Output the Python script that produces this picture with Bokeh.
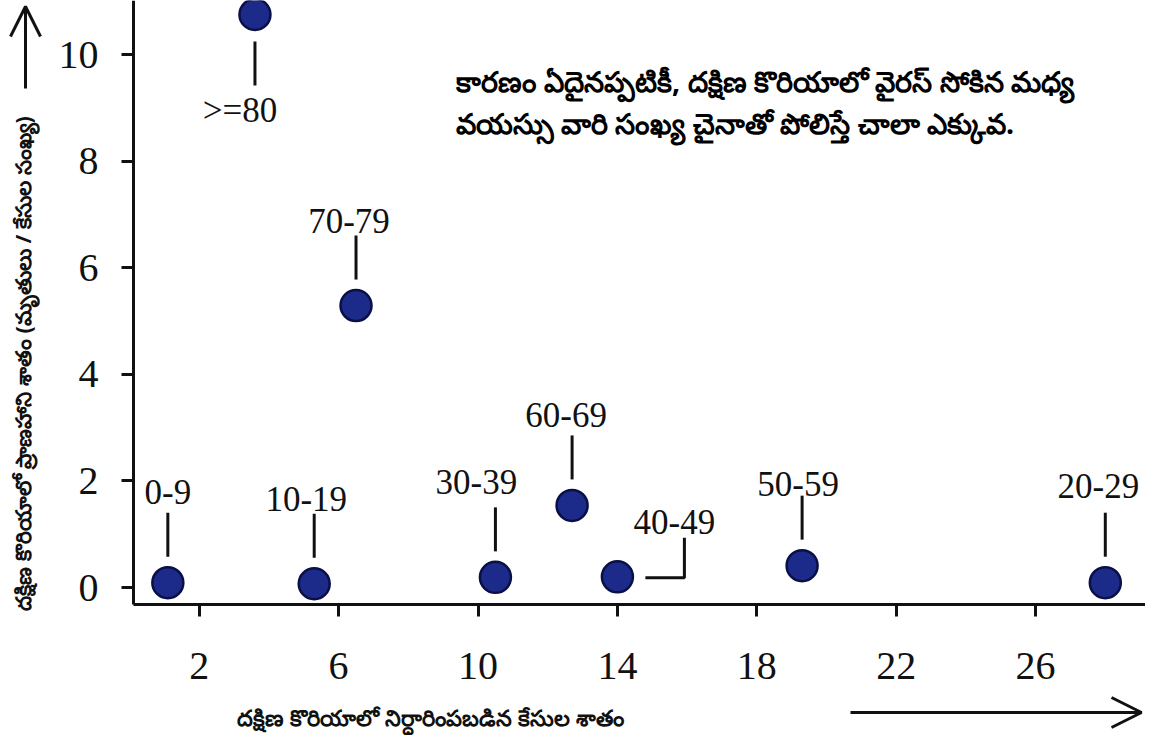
import math
from bokeh.plotting import figure
from bokeh.models import FixedTicker, Label, Arrow, OpenHead, ColumnDataSource
from bokeh.core.properties import value
from bokeh.embed import file_html
from bokeh.resources import INLINE

# ---------------- data ----------------
age_groups = ["0-9", "10-19", "20-29", "30-39", "40-49", "50-59", "60-69", "70-79", ">=80"]
case_share = [1.1, 5.3, 28.0, 10.5, 14.0, 19.3, 12.7, 6.5, 3.6]          # % of confirmed cases
fatality_rate = [0.09, 0.07, 0.09, 0.19, 0.2, 0.41, 1.54, 5.29, 10.75]   # % deaths / cases
x_ticks = [2, 6, 10, 14, 18, 22, 26]
y_ticks = [0, 2, 4, 6, 8, 10]

note_text = ("కారణం ఏదైనప్పటికీ, దక్షిణ కొరియాలో వైరస్ సోకిన మధ్య\n"
             "వయస్సు వారి సంఖ్య చైనాతో పోలిస్తే చాలా ఎక్కువ.")
x_title = "దక్షిణ కొరియాలో నిర్ధారింపబడిన కేసుల శాతం"
y_title = "దక్షిణ కొరియాలో ప్రాణహాని శాతం (మృతులు / కేసుల సంఖ్య)"

# ---------------- layout / style ----------------
W, H = 1145, 735
AX_LEFT, AX_BOTTOM = 133, 604          # pixel position of the axis lines
SX, SY = 34.85, 53.3                   # pixels per data unit
ZX, ZY = 129, 587                      # pixel position of data 0

def px2x(cx):
    return (cx - ZX) / SX

def px2y(cy):
    return (ZY - cy) / SY

label_offsets = {   # label centre offsets in pixels (dx right, dy down)
    "0-9": (0, -91), "10-19": (-8, -85), "20-29": (-7, -97), "30-39": (-19, -95),
    "40-49": (57, -55), "50-59": (-4, -82), "60-69": (-6, -90), "70-79": (-7, -85),
    ">=80": (-15, 96),
}

p = figure(width=W, height=H, output_backend="svg", toolbar_location=None,
           x_range=(px2x(0), px2x(W)), y_range=(px2y(H), px2y(0)),
           min_border_left=0, min_border_bottom=0, min_border_top=0, min_border_right=0)
p.outline_line_color = None
p.xgrid.visible = False
p.ygrid.visible = False
p.background_fill_color = "white"
p.border_fill_color = "white"

for ax in (p.xaxis[0], p.yaxis[0]):
    ax.axis_line_width = 3
    ax.axis_line_color = "#111111"
    ax.major_tick_line_width = 3
    ax.major_tick_line_color = "#111111"
    ax.major_tick_out = 12
    ax.major_tick_in = 0
    ax.minor_tick_line_color = None
    ax.major_label_text_font = "Liberation Serif"
    ax.major_label_text_font_size = "40px"
    ax.major_label_text_color = "#111111"

p.xaxis.ticker = FixedTicker(ticks=x_ticks)
p.yaxis.ticker = FixedTicker(ticks=y_ticks)
p.xaxis.fixed_location = px2y(AX_BOTTOM)
p.yaxis.fixed_location = px2x(AX_LEFT)
p.xaxis.bounds = (px2x(AX_LEFT), px2x(W))
p.yaxis.bounds = (px2y(AX_BOTTOM), px2y(0))
p.xaxis.major_label_standoff = 36
p.yaxis.major_label_standoff = 23

# points
src = ColumnDataSource(dict(x=case_share, y=fatality_rate, name=age_groups))
p.scatter("x", "y", source=src, size=31, fill_color="#1c2a8a",
          line_color="#0a1045", line_width=2.5)

# leader lines and group labels
lxs, lys, tx, ty, tt = [], [], [], [], []
for g, xv, yv in zip(age_groups, case_share, fatality_rate):
    dx, dy = label_offsets[g]
    tx.append(xv + dx / SX)
    ty.append(yv - dy / SY)
    tt.append(g)
    if g == "40-49":
        lxs.append([xv + 28 / SX, xv + 67 / SX, xv + 67 / SX])
        lys.append([yv - 1 / SY, yv - 1 / SY, yv + 39 / SY])
    elif dy > 0:
        lxs.append([xv, xv])
        lys.append([yv - 27 / SY, yv - 71 / SY])
    else:
        lxs.append([xv, xv])
        lys.append([yv + 26 / SY, yv + 70 / SY])

p.multi_line(lxs, lys, line_color="#111111", line_width=3)
p.text(tx, ty, text=tt, text_font=value("Liberation Serif"), text_font_size="35px",
       text_align="center", text_baseline="middle", text_color="#111111")

# annotation paragraph
p.add_layout(Label(x=px2x(455), y=px2y(60), text=note_text,
                   text_font="Noto Sans", text_font_style="bold",
                   text_font_size="28.6px", text_color="#000000",
                   text_align="left", text_baseline="top", text_line_height=1.1))

# axis titles
p.add_layout(Label(x=px2x(430), y=px2y(717), text=x_title,
                   text_font="Noto Sans", text_font_style="bold",
                   text_font_size="22.4px", text_color="#111111",
                   text_align="center", text_baseline="middle"))
p.add_layout(Label(x=px2x(22), y=px2y(363), text=y_title, angle=math.pi / 2,
                   text_font="Noto Sans", text_font_style="bold",
                   text_font_size="21.5px", text_color="#111111",
                   text_align="center", text_baseline="middle"))

# decorative arrows
p.add_layout(Arrow(end=OpenHead(size=30, line_width=3, line_color="#111111"),
                   x_start=px2x(25), y_start=px2y(88), x_end=px2x(25), y_end=px2y(6),
                   line_width=3, line_color="#111111"))
p.add_layout(Arrow(end=OpenHead(size=30, line_width=3, line_color="#111111"),
                   x_start=px2x(850), y_start=px2y(712), x_end=px2x(1141), y_end=px2y(712),
                   line_width=3, line_color="#111111"))

open("out.html", "w").write(file_html(p, INLINE))
